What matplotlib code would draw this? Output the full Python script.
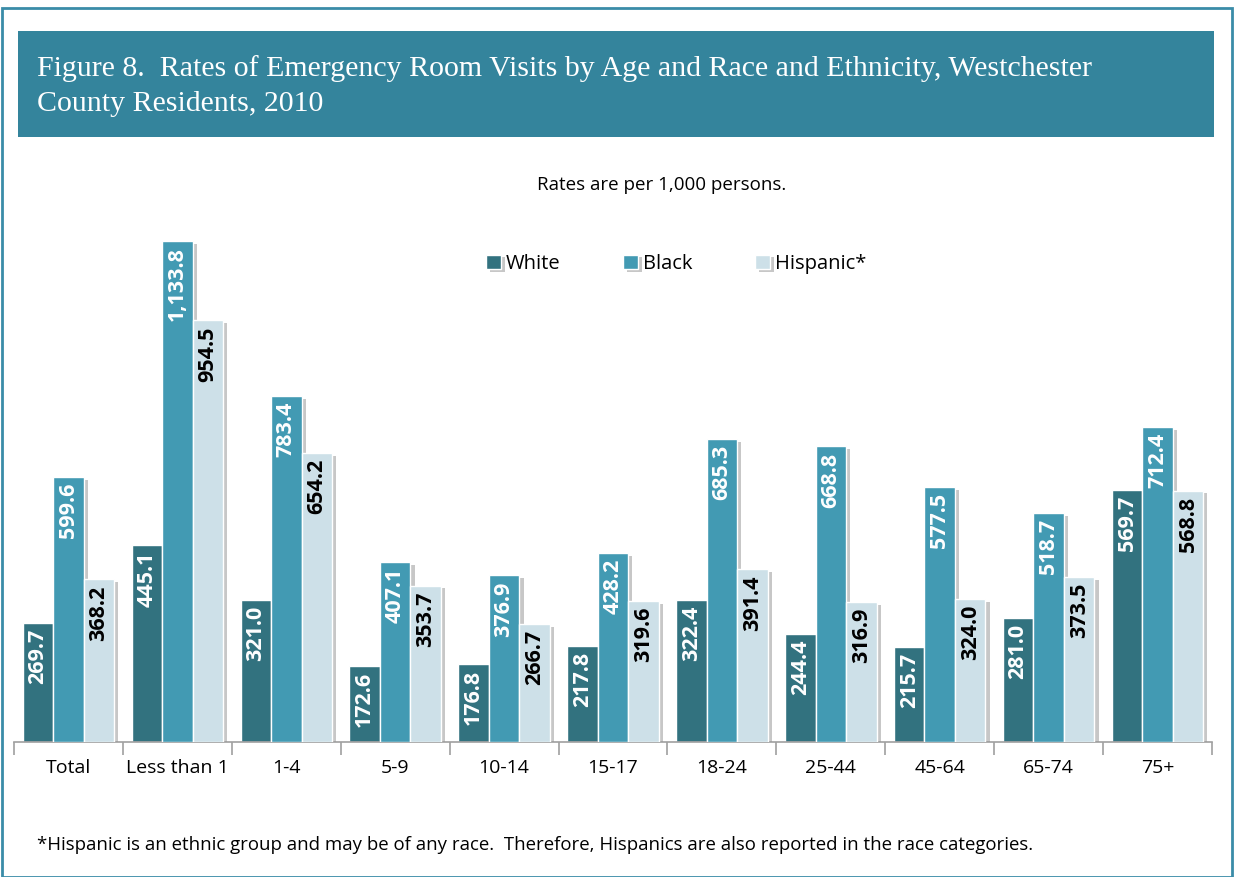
import numpy as np
import matplotlib.pyplot as plt
import matplotlib.patheffects as pe
from matplotlib.patches import Rectangle

categories = ["Total", "Less than 1", "1-4", "5-9", "10-14", "15-17",
              "18-24", "25-44", "45-64", "65-74", "75+"]
white = [269.7, 445.1, 321.0, 172.6, 176.8, 217.8, 322.4, 244.4, 215.7, 281.0, 569.7]
black = [599.6, 1133.8, 783.4, 407.1, 376.9, 428.2, 685.3, 668.8, 577.5, 518.7, 712.4]
hispanic = [368.2, 954.5, 654.2, 353.7, 266.7, 319.6, 391.4, 316.9, 324.0, 373.5, 568.8]
series_names = ["White", "Black", "Hispanic*"]

colors = ["#32727F", "#429AB3", "#CDE0E8"]
label_colors = ["white", "white", "black"]

W, H = 1234, 877
fig = plt.figure(figsize=(W / 100, H / 100), dpi=100)

# outer frame
fig.patches.append(Rectangle((2 / W, 0), (W - 4) / W, (H - 8) / H, transform=fig.transFigure,
                             fill=False, edgecolor="#3A8CA8", linewidth=2))
# title band
fig.patches.append(Rectangle((18 / W, 1 - 137 / H), (1214 - 18) / W, (137 - 31) / H,
                             transform=fig.transFigure, facecolor="#34849C", edgecolor="none"))
fig.text(37 / W, 1 - 69 / H, "Figure 8.  Rates of Emergency Room Visits by Age and Race and Ethnicity, Westchester",
         color="white", fontsize=21.5, family="Liberation Serif", va="center", ha="left")
fig.text(37 / W, 1 - 104 / H, "County Residents, 2010",
         color="white", fontsize=21.5, family="Liberation Serif", va="center", ha="left")

fig.text(662 / W, 1 - 185 / H, "Rates are per 1,000 persons.", fontsize=13.5,
         family="Open Sans", ha="center", va="center")

fig.text(37 / W, 1 - 845 / H,
         "*Hispanic is an ethnic group and may be of any race.  Therefore, Hispanics are also reported in the race categories.",
         fontsize=13.4, family="Open Sans", ha="left", va="center")

# axes: baseline at y=742 px, 0.4419 px per unit
ax_left, ax_right = 14, 1212
ax_bottom, ax_top = 742, 200
ax = fig.add_axes([ax_left / W, 1 - ax_bottom / H, (ax_right - ax_left) / W, (ax_bottom - ax_top) / H])
ymax = (ax_bottom - ax_top) / 0.4419
ax.set_ylim(0, ymax)
ax.set_xlim(-0.5, len(categories) - 0.5)

x = np.arange(len(categories))
bw = 0.28
shadow = [pe.SimplePatchShadow(offset=(3, -2), shadow_rgbFace="#999999", alpha=0.55), pe.Normal()]
for i, (vals, c, lc) in enumerate(zip([white, black, hispanic], colors, label_colors)):
    pos = x + (i - 1) * bw
    ax.bar(pos, vals, width=bw, color=c, edgecolor="white", linewidth=1.0,
           label=series_names[i], path_effects=shadow, zorder=2 + i)
    for xp, v in zip(pos, vals):
        ax.text(xp, v - ymax * 0.011, f"{v:,.1f}", rotation=90, ha="center", va="top",
                color=lc, fontsize=15.5, fontweight="bold", family="Open Sans", zorder=10)

for s in ["top", "right", "left"]:
    ax.spines[s].set_visible(False)
ax.spines["bottom"].set_color("#A0A0A0")
ax.spines["bottom"].set_linewidth(1.2)
ax.set_yticks([])
ax.set_xticks(np.arange(len(categories) + 1) - 0.5, minor=False)
ax.set_xticklabels([])
ax.tick_params(axis="x", length=9, color="#A0A0A0", width=1.2)
ax.set_xticks(x, minor=True)
ax.set_xticklabels(categories, minor=True, fontsize=14, family="Open Sans")
ax.tick_params(axis="x", which="minor", length=0, pad=12)

leg = ax.legend(loc="center", bbox_to_anchor=(676 / W, 1 - 264 / H), bbox_transform=fig.transFigure,
                ncol=3, frameon=False, prop={"family": "Open Sans", "size": 14.5},
                handlelength=0.75, handleheight=0.75, handletextpad=0.25, columnspacing=3.1)

fig.savefig("out.png", dpi=100)
